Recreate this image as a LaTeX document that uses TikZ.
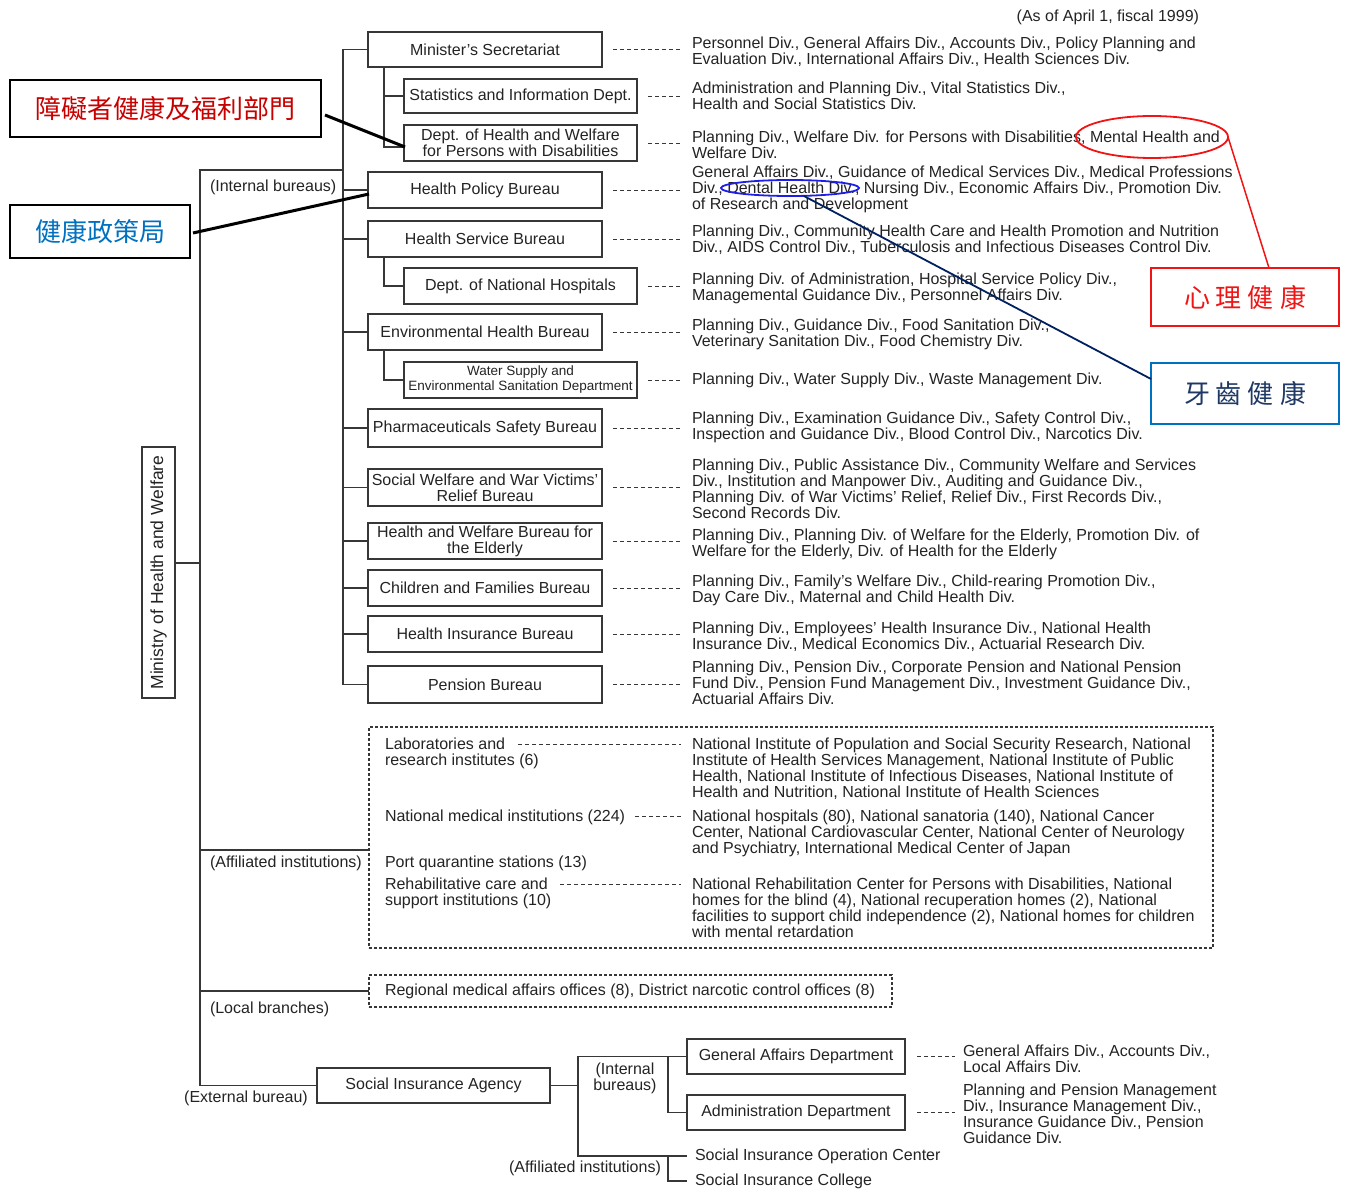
\documentclass[tikz,border=0pt]{standalone}
\usepackage{fontspec}
\setmainfont{Liberation Sans}
\newfontfamily\cjk{Noto Sans CJK TC}
\usetikzlibrary{calc,shapes.geometric}
\definecolor{ln}{RGB}{55,55,55}
\definecolor{txt}{RGB}{35,35,35}
\definecolor{annred}{RGB}{200,0,0}
\definecolor{brightred}{RGB}{240,20,20}
\definecolor{annblue}{RGB}{0,112,192}
\definecolor{navytxt}{RGB}{31,56,100}
\definecolor{ellblue}{RGB}{30,30,230}
\definecolor{navyline}{RGB}{0,32,96}
\newcommand{\fs}{\fontsize{16}{16}\selectfont}
\newcommand{\fsm}{\fontsize{13.5}{15}\selectfont}
\newcommand{\fbig}{\fontsize{17.5}{20}\selectfont}
\newcommand{\fcjk}{\cjk\fontsize{26}{30}\selectfont}
\begin{document}
\begin{tikzpicture}[x=1pt,y=-1pt,
  every node/.style={inner sep=0pt,outer sep=0pt,text=txt,font=\fs},
  conn/.style={draw=ln,line width=1.3pt},
  bbox/.style={draw=ln,line width=1.3pt,minimum width=234pt,minimum height=36pt,align=center},
  sbox/.style={bbox,minimum width=233pt},
  dsh/.style={draw=ln,line width=0.9pt,dash pattern=on 4pt off 3pt},
  dbox/.style={draw=ln,line width=1.2pt,dash pattern=on 3pt off 2pt},
  rtxt/.style={anchor=north west,align=left},
  lbl/.style={anchor=west},
  annbox/.style={draw=black,line width=2pt,font=\fcjk},
]
\useasboundingbox (0,0) rectangle (1345,1190);

\node[anchor=east] (asof) at (1199,17) {(As of April 1, fiscal 1999)};

\node[draw=ln,line width=1.3pt,rotate=90,minimum width=251pt,minimum height=33pt,font=\fbig] (min) at (158.5,572.5) {Ministry of Health and Welfare};

% bureaus
\node[bbox,minimum height=35pt] (ms) at (485,49.5) {Minister's Secretariat};
\node[sbox,minimum height=34pt] (sid) at (520.5,96) {Statistics and Information Dept.};
\node[sbox] (dhw) at (520.5,143) {Dept. of Health and Welfare\\for Persons with Disabilities};
\node[bbox] (hpb) at (485,190) {Health Policy Bureau};
\node[bbox] (hsb) at (485,239) {Health Service Bureau};
\node[sbox] (dnh) at (520.5,286) {Dept. of National Hospitals};
\node[bbox] (ehb) at (485,332) {Environmental Health Bureau};
\node[sbox,font=\fsm] (ws) at (520.5,380) {Water Supply and\\Environmental Sanitation Department};
\node[bbox,minimum height=38pt] (psb) at (485,428) {Pharmaceuticals Safety Bureau};
\node[bbox,minimum height=37pt] (sw) at (485,487.5) {Social Welfare and War Victims'\\Relief Bureau};
\node[bbox] (hwe) at (485,541) {Health and Welfare Bureau for\\the Elderly};
\node[bbox] (cfb) at (485,588) {Children and Families Bureau};
\node[bbox] (hib) at (485,634) {Health Insurance Bureau};
\node[bbox,minimum height=37pt] (pb) at (485,684.5) {Pension Bureau};

% divisions
\node[rtxt] (msr) at (692,37) {Personnel Div., General Affairs Div., Accounts Div., Policy Planning and\\Evaluation Div., International Affairs Div., Health Sciences Div.};
\node[rtxt] (sidr) at (692,82) {Administration and Planning Div., Vital Statistics Div.,\\Health and Social Statistics Div.};
\node[rtxt] (dhwr) at (692,131) {Planning Div., Welfare Div. for Persons with Disabilities, Mental Health and\\Welfare Div.};
\node[rtxt] (hpbr) at (692,166) {General Affairs Div., Guidance of Medical Services Div., Medical Professions\\Div., Dental Health Div., Nursing Div., Economic Affairs Div., Promotion Div.\\of Research and Development};
\node[rtxt] (hsbr) at (692,225) {Planning Div., Community Health Care and Health Promotion and Nutrition\\Div., AIDS Control Div., Tuberculosis and Infectious Diseases Control Div.};
\node[rtxt] (dnhr) at (692,273) {Planning Div. of Administration, Hospital Service Policy Div.,\\Managemental Guidance Div., Personnel Affairs Div.};
\node[rtxt] (ehbr) at (692,319) {Planning Div., Guidance Div., Food Sanitation Div.,\\Veterinary Sanitation Div., Food Chemistry Div.};
\node[rtxt] (wsr) at (692,373) {Planning Div., Water Supply Div., Waste Management Div.};
\node[rtxt] (psbr) at (692,412) {Planning Div., Examination Guidance Div., Safety Control Div.,\\Inspection and Guidance Div., Blood Control Div., Narcotics Div.};
\node[rtxt] (swr) at (692,459) {Planning Div., Public Assistance Div., Community Welfare and Services\\Div., Institution and Manpower Div., Auditing and Guidance Div.,\\Planning Div. of War Victims' Relief, Relief Div., First Records Div.,\\Second Records Div.};
\node[rtxt] (hwer) at (692,529) {Planning Div., Planning Div. of Welfare for the Elderly, Promotion Div. of\\Welfare for the Elderly, Div. of Health for the Elderly};
\node[rtxt] (cfbr) at (692,575) {Planning Div., Family's Welfare Div., Child-rearing Promotion Div.,\\Day Care Div., Maternal and Child Health Div.};
\node[rtxt] (hibr) at (692,622) {Planning Div., Employees' Health Insurance Div., National Health\\Insurance Div., Medical Economics Div., Actuarial Research Div.};
\node[rtxt] (pbr) at (692,661) {Planning Div., Pension Div., Corporate Pension and National Pension\\Fund Div., Pension Fund Management Div., Investment Guidance Div.,\\Actuarial Affairs Div.};

% labels on trunk
\node[lbl] (ibl) at (210,187) {(Internal bureaus)};
\node[lbl] (afl) at (210,863) {(Affiliated institutions)};
\node[lbl] (lbl2) at (210,1009) {(Local branches)};
\node (ebl) at (246,1098) {(External bureau)};

% affiliated institutions
\node[dbox,minimum width=844pt,minimum height=221pt] (aff) at (791,837.5) {};
\node[rtxt] (lab) at (385,738) {Laboratories and\\research institutes (6)};
\node[rtxt] (labr) at (692,738) {National Institute of Population and Social Security Research, National\\Institute of Health Services Management, National Institute of Public\\Health, National Institute of Infectious Diseases, National Institute of\\Health and Nutrition, National Institute of Health Sciences};
\node[rtxt] (nmi) at (385,810) {National medical institutions (224)};
\node[rtxt] (nmir) at (692,810) {National hospitals (80), National sanatoria (140), National Cancer\\Center, National Cardiovascular Center, National Center of Neurology\\and Psychiatry, International Medical Center of Japan};
\node[rtxt] (pqs) at (385,856) {Port quarantine stations (13)};
\node[rtxt] (rci) at (385,878) {Rehabilitative care and\\support institutions (10)};
\node[rtxt] (rcir) at (692,878) {National Rehabilitation Center for Persons with Disabilities, National\\homes for the blind (4), National recuperation homes (2), National\\facilities to support child independence (2), National homes for children\\with mental retardation};

% local branches
\node[dbox,minimum width=523pt,minimum height=32pt] (loc) at (630.5,991) {};
\node[lbl] (loct) at (385,991) {Regional medical affairs offices (8), District narcotic control offices (8)};

% social insurance agency
\node[bbox,minimum width=233pt,minimum height=35pt] (sia) at (433.5,1085.5) {Social Insurance Agency};
\node[bbox,minimum width=218pt,minimum height=35pt] (gad) at (796,1056.5) {General Affairs Department};
\node[bbox,minimum width=218pt,minimum height=35pt] (adm) at (796,1112.5) {Administration Department};
\node[lbl] (sioc) at (695,1156) {Social Insurance Operation Center};
\node[lbl] (sic) at (695,1181) {Social Insurance College};
\node[align=center] (sib) at (625,1078) {(Internal\\bureaus)};
\node (sia2) at (585,1168) {(Affiliated institutions)};
\node[rtxt] (gadr) at (963,1045) {General Affairs Div., Accounts Div.,\\Local Affairs Div.};
\node[rtxt] (admr) at (963,1084) {Planning and Pension Management\\Div., Insurance Management Div.,\\Insurance Guidance Div., Pension\\Guidance Div.};

% annotations
\node[annbox,text=annred,minimum width=311pt,minimum height=57pt] (rb) at (165.5,108.5) {障礙者健康及福利部門};
\node[annbox,text=annblue,minimum width=180pt,minimum height=53pt] (bb) at (100,231.5) {健康政策局};
\node[ellipse,draw=brightred,line width=1.8pt,minimum width=152pt,minimum height=42pt] (e1) at (1152,137) {};
\node[ellipse,draw=ellblue,line width=1.8pt,minimum width=138pt,minimum height=16pt] (e2) at (790,188) {};
\node[draw=brightred,line width=2pt,minimum width=188pt,minimum height=58pt,font=\fcjk,text=brightred] (xl) at (1245,297) {心\hspace{6pt}理\hspace{6pt}健\hspace{6pt}康};
\node[draw=annblue,line width=2pt,minimum width=188pt,minimum height=61pt,font=\fcjk,text=navytxt] (yc) at (1245,393.5) {牙\hspace{6pt}齒\hspace{6pt}健\hspace{6pt}康};

% connectors: main trunk
\coordinate (T) at (343,0);
\coordinate (S) at (384,0);
\coordinate (L) at (200,0);
\coordinate (ib) at (343,170);
\coordinate (af) at (200,850);
\draw[conn] ($(min.south)+(0,-9.5)$) -- ++(25,0);
\draw[conn] (ib) -- (L |- ib) -- (L |- sia.west) -- (sia.west);
\draw[conn] (af) -- (af -| aff.west);
\draw[conn] (L |- loc.west) -- (loc.west);
\draw[conn] (ms.west) -- (T |- ms.west) -- (T |- pb.west) -- (pb.west);
\foreach \b in {hpb,hsb,ehb,psb,sw,hwe,cfb,hib} \draw[conn] (T |- \b.west) -- (\b.west);
\draw[conn] (S |- ms.south) |- (sid.west);
\draw[conn] (S |- sid.west) |- ($(dhw.west)+(0,4)$);
\draw[conn] (S |- hsb.south) |- (dnh.west);
\draw[conn] (S |- ehb.south) |- (ws.west);

% dashed leaders
\foreach \b/\r in {ms/msr,hpb/hpbr,hsb/hsbr,ehb/ehbr,psb/psbr,sw/swr,hwe/hwer,cfb/cfbr,hib/hibr,pb/pbr,sid/sidr,dhw/dhwr,dnh/dnhr,ws/wsr}
  \draw[dsh] ($(\b.east)+(11,0)$) -- ($(\r.west |- \b.east)+(-12,0)$);
\draw[dsh] ($(labr.north west)+(-174,6)$) -- ($(labr.north west)+(-11,6)$);
\draw[dsh] ($(nmi.north east)+(10,6)$) -- ($(nmir.north west)+(-11,6)$);
\draw[dsh] ($(rcir.north west)+(-132,6)$) -- ($(rcir.north west)+(-11,6)$);
\draw[dsh] ($(gad.east)+(12,0)$) -- ($(gadr.west |- gad.east)+(-8,0)$);
\draw[dsh] ($(adm.east)+(12,0)$) -- ($(admr.west |- adm.east)+(-8,0)$);

% social insurance connectors
\coordinate (J) at (578,0);
\coordinate (K) at (668,0);
\draw[conn] (sia.east) -- (J |- sia.east);
\draw[conn] (gad.west) -- (J |- gad.west) -- (J |- sioc.west) -- ($(sioc.west)+(-8,0)$);
\draw[conn] (K |- gad.west) |- (adm.west);
\draw[conn] (K |- sioc.west) |- ($(sic.west)+(-8,0)$);

% annotation leaders
\draw[line width=3pt] ($(rb.east)+(4,6.5)$) -- ($(dhw.south west)+(1,-14)$);
\draw[line width=3pt] ($(bb.east)+(3,1.5)$) -- ($(hpb.west)+(1,4)$);
\draw[brightred,line width=1.5pt] (e1.east) -- ($(xl.north)+(24,0)$);
\draw[navyline,line width=1.8pt] (e2.-30) -- ($(yc.north west)+(0,16)$);
\end{tikzpicture}
\end{document}
